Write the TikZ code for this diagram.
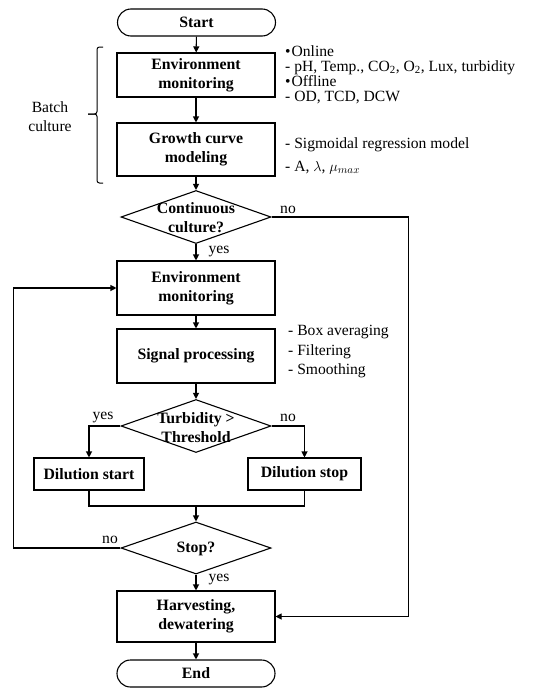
\documentclass[tikz,border=0pt]{standalone}
\usepackage{fontspec}
\setmainfont{Liberation Serif}
\usetikzlibrary{arrows.meta,shapes.geometric}
\begin{document}
\begin{tikzpicture}[x=1pt,y=-1pt,
  every node/.style={font=\fontsize{15.6}{19}\selectfont},
  box/.style={draw,line width=1.1pt,minimum width=158pt,inner sep=0pt,align=center,font=\fontsize{15.8}{19}\selectfont\bfseries},
  term/.style={box,rounded corners=13.5pt},
  dia/.style={draw,line width=1.1pt,diamond,minimum width=150pt,minimum height=53pt,inner sep=0pt},
  lbl/.style={font=\fontsize{15.8}{19}\selectfont\bfseries,align=center,inner sep=0pt},
  note/.style={anchor=base west,inner sep=0pt,text height=9pt,text depth=1pt},
  arr/.style={line width=1.1pt,-{Triangle[length=6pt,width=6pt]}},
  ln/.style={line width=1.1pt},
  yn/.style={inner sep=0pt}
]
\useasboundingbox (0,0) rectangle (534,688);
% main column
\node[term,minimum height=27pt] (start) at (196.5,22.5) {Start};
\node[box,minimum height=44pt] (env1) at (196,75) {Environment\\monitoring};
\node[box,minimum height=53pt] (grow) at (196,149.5) {Growth curve\\modeling};
\node[dia] (cont) at (196,217) {};
\node[lbl] (contt) at (196,218) {Continuous\\culture?};
\node[box,minimum height=54pt] (env2) at (196,288) {Environment\\monitoring};
\node[box,minimum height=54pt] (sig) at (196,356) {Signal processing};
\node[dia] (turb) at (196,426) {};
\node[lbl] (turbt) at (196,428) {Turbidity >\\Threshold};
\node[box,minimum width=110pt,minimum height=32pt] (dstart) at (89,474) {Dilution start};
\node[box,minimum width=113pt,minimum height=32pt] (dstop) at (304.5,474) {Dilution stop};
\node[dia,minimum height=52pt] (stop) at (196,548) {};
\node[lbl] (stopt) at (196,549) {Stop?};
\node[box,minimum height=51pt] (harv) at (196,616.5) {Harvesting,\\dewatering};
\node[term,minimum height=27pt] (end) at (196,673.5) {End};
% connectors
\draw[arr] (start) -- (env1);
\draw[arr] (env1) -- (grow);
\draw[arr] (grow) -- (cont);
\draw[arr] (cont) -- (env2);
\draw[arr] (cont.east) -- ++(137,0) |- (harv.east);
\draw[arr] (env2) -- (sig);
\draw[arr] (sig) -- (turb);
\draw[arr] (turb.west) -| (dstart.north);
\draw[arr] (turb.east) -| (dstop.north);
\coordinate (m) at (196,506);
\draw[ln] (dstart.south) |- (m) -| (dstop.south);
\draw[arr] (m) -- (stop);
\draw[arr] (stop.west) -- ++(-107,0) |- (env2.west);
\draw[arr] (stop) -- (harv);
\draw[arr] (harv) -- (end);
% yes/no labels
\node[yn] (l1) at (288,210) {no};
\node[yn] (l2) at (219,252) {yes};
\node[yn] (l3) at (103,418) {yes};
\node[yn] (l4) at (288,418) {no};
\node[yn] (l5) at (110,540) {no};
\node[yn] (l6) at (219,580) {yes};
% bracket
\draw[line width=1pt,rounded corners=2.5pt] (103,47) -- (97,47) -- (97,114) -- (88,114);
\draw[line width=1pt,rounded corners=2.5pt] (88,114) -- (97,114) -- (97,183) -- (103,183);
\node[align=center] (batch) at (50,116.5) {Batch\\culture};
% notes
\node[note] (n1) at (285,56) {\textbullet\hspace{1pt}Online};
\node[note] (n2) at (285,71) {- pH, Temp., CO\textsubscript{2}, O\textsubscript{2}, Lux, turbidity};
\node[note] (n3) at (285,86) {\textbullet\hspace{1pt}Offline};
\node[note] (n4) at (285,101.5) {- OD, TCD, DCW};
\node[note] (n5) at (285,148) {- Sigmoidal regression model};
\node[note] (n6) at (285,171) {- A, $\lambda$, $\mu_{max}$};
\node[note] (n7) at (288,335) {- Box averaging};
\node[note] (n8) at (288,355) {- Filtering};
\node[note] (n9) at (288,374) {- Smoothing};
\end{tikzpicture}
\end{document}
